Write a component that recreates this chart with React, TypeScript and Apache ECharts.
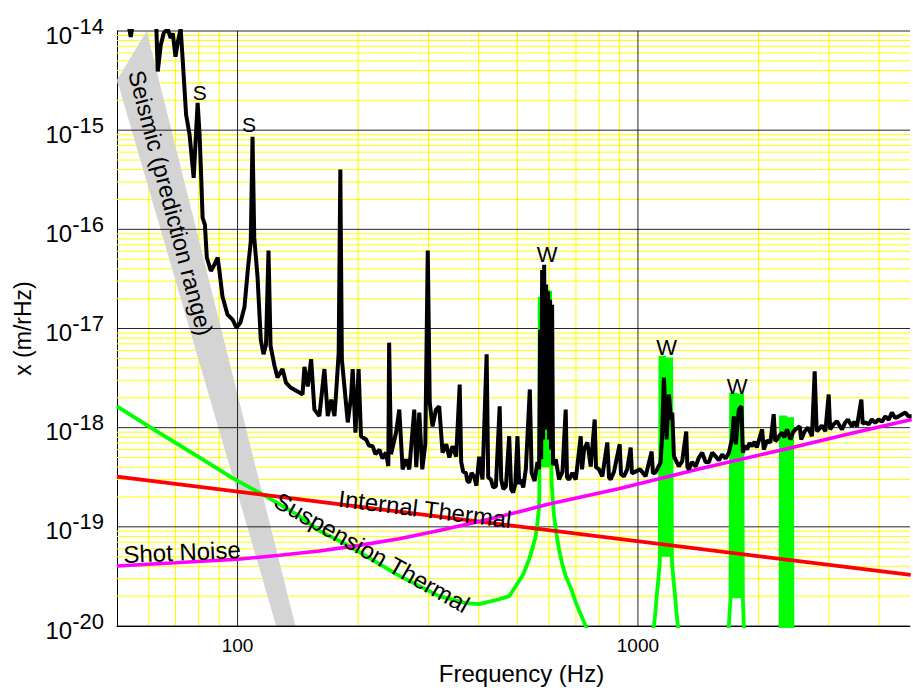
import { useEffect, useRef } from "react";
import * as echarts from "echarts";

const FONT = '"Liberation Sans", Arial, Helvetica, sans-serif';

// Axis ranges
const freqMin = 50;
const freqMax = 4780;
const ampMin = 1e-20;
const ampMax = 1e-14;

// Grid lines
const majorFreqLines = [100, 1000];
const minorFreqLines = [60, 70, 80, 90, 200, 300, 400, 500, 600, 700, 800, 900, 2000, 3000, 4000];
const ampDecades = [1e-20, 1e-19, 1e-18, 1e-17, 1e-16, 1e-15, 1e-14];
const minorMultipliers = [2, 3, 4, 5, 6, 7, 8, 9];

// Measured displacement spectrum [Hz, m/rHz]
const measured: [number, number][] = [
  [50, 2.0e-14], [53.2, 1.3e-14], [54.1, 8.7e-15], [55.0, 1.3e-14], [60.3, 3.0e-14], [62.4, 2.0e-14],
  [63.2, 3.9e-15], [64.3, 7.2e-15], [65.4, 9.5e-15], [66.9, 1.05e-14], [68.1, 8.5e-15], [68.9, 9.5e-15],
  [70.0, 5.5e-15], [70.9, 7.7e-15], [72.1, 1.05e-14], [72.9, 5.4e-15], [73.8, 2.4e-15], [74.4, 1.43e-15],
  [75.9, 9.0e-16], [77.7, 3.3e-16], [79.5, 1.88e-15], [80.4, 9.0e-16], [81.1, 3.55e-16], [81.8, 1.31e-16],
  [82.9, 1.11e-16], [83.8, 5.2e-17], [85.8, 3.8e-17], [87.5, 4.4e-17], [89.2, 5.2e-17], [90.2, 3.7e-17],
  [91.7, 2.1e-17], [94.4, 1.38e-17], [97.2, 1.23e-17], [99.4, 1.02e-17], [101.7, 1.15e-17], [104.1, 1.66e-17],
  [106.2, 4.1e-17], [107.9, 7.5e-17], [109.0, 8.6e-16], [110.1, 8.2e-17], [112.2, 3.3e-17], [114.3, 7.7e-18],
  [116.1, 5.5e-18], [117.8, 6.9e-18], [119.5, 6.1e-17], [120.9, 6.7e-18], [123.7, 4.2e-18], [125.8, 3.2e-18],
  [129.5, 3.9e-18], [132.1, 2.85e-18], [135.6, 2.54e-18], [141.2, 2.32e-18], [145.3, 2.16e-18], [146.9, 4.1e-18],
  [149.7, 2.6e-18], [152.7, 4.9e-18], [155.6, 1.52e-18], [160.1, 1.31e-18], [164.8, 3.9e-18], [168.0, 1.31e-18],
  [171.3, 1.92e-18], [174.6, 1.31e-18], [176.3, 2.26e-18], [178.9, 5.7e-18], [180.6, 4.0e-16], [182.2, 4.9e-18],
  [184.9, 2.6e-18], [188.5, 1.13e-18], [192.1, 2.06e-18], [193.9, 3.9e-18], [197.0, 8.9e-19], [200.6, 3.9e-18],
  [203.4, 8.2e-19], [209.4, 7.6e-19], [213.0, 6.6e-19], [217.5, 6.5e-19], [221.0, 5.4e-19], [226.1, 6.0e-19],
  [230.0, 4.9e-19], [234.9, 5.6e-19], [238.0, 4.1e-19],
  [239.1, 7.2e-18], [241.7, 5.4e-19], [248.8, 8.9e-19], [253.5, 1.52e-18], [258.4, 3.8e-19], [263.5, 4.8e-19],
  [268.5, 3.8e-19], [276.3, 1.52e-18], [279.5, 4.0e-19], [284.4, 1.42e-18], [289.3, 3.8e-19], [294.4, 6.8e-19],
  [298.6, 6.1e-17], [302.0, 1.79e-18], [306.9, 1.03e-18], [313.0, 1.52e-18], [318.9, 1.64e-18], [325.1, 5.6e-19],
  [332.0, 6.8e-19], [338.0, 5.0e-19], [344.2, 6.5e-19], [351.6, 5.1e-19], [358.8, 2.72e-18], [361.9, 4.5e-19],
  [366.0, 3.6e-19], [371.8, 3.5e-19], [375.0, 2.9e-19],
  [379.0, 2.8e-19], [384.0, 3.5e-19], [390.0, 3.2e-19], [395.0, 2.6e-19], [401.4, 5.1e-19], [409.1, 3.0e-19],
  [418.9, 5.5e-18], [422.7, 3.15e-19],
  [429.3, 3.0e-19], [435.0, 2.5e-19], [441.8, 2.56e-19], [451.5, 1.64e-18], [455.5, 3.0e-19], [461.0, 2.4e-19],
  [468.0, 2.56e-19], [476.9, 8.2e-19],
  [482.4, 2.4e-19], [488.0, 2.22e-19], [494.0, 2.7e-19], [500.2, 8.2e-19], [505.1, 2.7e-19], [510.0, 3.0e-19],
  [517.0, 2.5e-19], [524.8, 3.8e-19],
  [537.0, 2.43e-18], [542.6, 3.5e-19], [552.0, 2.9e-19], [561.0, 4.5e-19], [566.5, 3.8e-19], [569.8, 9.7e-18],
  [573.1, 4.8e-19],
  [576.4, 3.9e-17], [579.7, 7.6e-19], [583.1, 4.4e-17], [586.4, 9.6e-19], [589.8, 2.77e-17], [593.2, 9.6e-19],
  [596.6, 2.36e-17], [600.0, 7.6e-19], [603.4, 1.95e-17], [606.8, 6.0e-19], [610.3, 1.74e-17], [613.8, 4.2e-19],
  [623.4, 4.8e-19], [635.3, 3.0e-19], [648.0, 3.6e-19], [660.0, 1.52e-18], [665.1, 3.15e-19], [672.9, 3.0e-19],
  [686.0, 3.5e-19], [699.3, 3.0e-19],
  [719.7, 8.2e-19], [725.1, 3.8e-19], [733.5, 6.0e-19], [747.6, 7.1e-19], [762.2, 4.06e-19], [779.8, 1.21e-18],
  [785.7, 4.0e-19], [799.2, 3.8e-19], [814.7, 3.23e-19], [838.4, 7.1e-19], [846.7, 3.15e-19], [855.0, 3.0e-19],
  [871.4, 3.6e-19], [900.4, 6.8e-19], [907.1, 3.4e-19], [922.9, 3.23e-19], [940, 3.8e-19], [959, 6.3e-19],
  [966, 3.46e-19],
  [977, 3.54e-19], [1012, 3.8e-19], [1045, 3.23e-19], [1082, 5.75e-19], [1090, 3.46e-19], [1107, 3.54e-19],
  [1139, 4.47e-19], [1148, 7.6e-19], [1161, 3.2e-18], [1179, 7.6e-19], [1195, 2.16e-18], [1209, 1.21e-18],
  [1218, 1.42e-18], [1230, 5.13e-19], [1265, 4.06e-19], [1290, 4.6e-19], [1320, 9.16e-19], [1329, 4.0e-19],
  [1341, 3.8e-19], [1365, 4.5e-19],
  [1393, 4.06e-19], [1420, 5.0e-19], [1447, 5.6e-19], [1475, 4.5e-19], [1503, 4.47e-19], [1533, 5.6e-19],
  [1563, 5.13e-19], [1593, 4.7e-19], [1623, 5.37e-19], [1655, 4.9e-19], [1687, 5.6e-19],
  [1716, 7.6e-19], [1736, 1.3e-18], [1756, 6.8e-19], [1786, 1.52e-18], [1814, 1.64e-18], [1828, 5.6e-19],
  [1850, 6.6e-19], [1873, 6.0e-19], [1900, 7.0e-19], [1928, 6.5e-19], [1955, 7.2e-19], [1981, 6.3e-19],
  [2042, 9.6e-19], [2062, 6.0e-19], [2100, 7.4e-19], [2142, 7.1e-19],
  [2183, 1.37e-18], [2202, 7.3e-19], [2225, 7.6e-19], [2260, 8.4e-19], [2291, 8.9e-19], [2320, 8.0e-19],
  [2357, 9.6e-19], [2403, 7.6e-19], [2440, 9.0e-19],
  [2474, 9.6e-19], [2535, 1.03e-18], [2557, 7.6e-19], [2610, 9.2e-19], [2659, 1.0e-18], [2720, 8.2e-19],
  [2763, 3.7e-18],
  [2795, 9.2e-19], [2827, 9.6e-19], [2880, 1.05e-18], [2938, 9.2e-19], [2995, 2.16e-18], [3020, 9.6e-19],
  [3080, 1.08e-18], [3140, 1.16e-18],
  [3232, 9.6e-19], [3290, 1.12e-18], [3345, 1.21e-18], [3423, 1.03e-18], [3470, 1.15e-18], [3523, 1.03e-18],
  [3614, 1.92e-18], [3641, 1.1e-18], [3698, 1.13e-18], [3770, 1.08e-18], [3839, 1.21e-18], [3910, 1.12e-18],
  [3990, 1.21e-18], [4070, 1.15e-18], [4147, 1.3e-18], [4230, 1.2e-18], [4307, 1.42e-18], [4390, 1.25e-18],
  [4477, 1.3e-18], [4560, 1.36e-18], [4652, 1.42e-18], [4740, 1.3e-18], [4824, 1.3e-18],
];

// Suspension thermal noise with violin-mode resonances
const suspensionThermal: [number, number][] = [
  [50, 1.64e-18], [63.9, 8.8e-19], [81.8, 4.8e-19], [97.2, 3.1e-19], [117.9, 2.03e-19], [142.8, 1.28e-19],
  [160.1, 9.1e-20], [190.2, 6.4e-20], [253.5, 3.2e-20], [318.9, 2.0e-20], [371.8, 1.7e-20], [401.4, 1.66e-20],
  [450.2, 1.86e-20], [476.9, 2.0e-20], [495.4, 2.53e-20], [516.8, 3.3e-20], [534.6, 4.7e-20], [546.0, 6.2e-20],
  [555.5, 8.1e-20], [561.6, 1.14e-19], [566.5, 1.62e-19], [567.5, 2.4e-19],
  [568.2, 2.09e-17], [573.1, 4.0e-19], [576.4, 2.0e-17], [579.7, 4.0e-19], [583.1, 2.0e-17], [586.4, 4.0e-19],
  [589.8, 2.2e-17], [593.2, 4.0e-19], [596.6, 2.46e-17], [600.0, 4.0e-19], [603.4, 2.4e-17], [608.5, 2.8e-19],
  [612.7, 1.9e-19], [617.3, 1.29e-19], [626.0, 8.4e-20], [635.3, 5.9e-20], [647.0, 4.2e-20], [660.0, 3.2e-20],
  [683.0, 2.3e-20], [699.3, 1.73e-20], [719.0, 1.32e-20], [740.6, 1.0e-20], [767.6, 7.4e-21], [800, 5e-21],
  [1050, 5e-21], [1096, 1.0e-20], [1106, 1.4e-20], [1115, 2.1e-20], [1125, 3.0e-20], [1134, 4.4e-20],
  [1138, 5.3e-18], [1144, 5.0e-20], [1150, 5.3e-18], [1156, 5.0e-20], [1162, 5.3e-18], [1168, 5.0e-20],
  [1174, 5.1e-18], [1180, 5.0e-20], [1186, 5.1e-18], [1192, 5.0e-20], [1198, 5.1e-18], [1204, 5.0e-20],
  [1210, 5.1e-18], [1216, 4.4e-20], [1226, 3.0e-20], [1237, 2.1e-20], [1247, 1.4e-20], [1258, 1.0e-20],
  [1300, 5e-21],
  [1650, 5e-21], [1687, 1.0e-20], [1695, 1.4e-20], [1703, 1.9e-20],
  [1709, 2.25e-18], [1717, 1.9e-20], [1725, 2.25e-18], [1733, 1.9e-20], [1741, 2.25e-18], [1749, 1.9e-20],
  [1757, 2.25e-18], [1765, 1.9e-20], [1773, 2.2e-18], [1781, 1.9e-20], [1789, 2.2e-18], [1797, 1.9e-20],
  [1805, 2.2e-18], [1813, 1.9e-20], [1821, 2.2e-18], [1828, 1.9e-20], [1833, 1.4e-20], [1838, 1.0e-20],
  [1900, 5e-21],
  [2250, 5e-21], [2270, 5e-21],
  [2276, 1.33e-18], [2287, 5e-21], [2298, 1.33e-18], [2309, 5e-21], [2320, 1.33e-18], [2331, 5e-21],
  [2342, 1.3e-18], [2353, 5e-21], [2364, 1.27e-18], [2375, 5e-21], [2386, 1.27e-18], [2397, 5e-21],
  [2408, 1.27e-18], [2419, 5e-21], [2426, 1.27e-18], [2432, 5e-21], [4800, 5e-21],
];

// Internal (test mass) thermal noise
const internalThermal: [number, number][] = [
  [50, 3.2e-19],
  [4800, 3.27e-20],
];

// Shot noise
const shotNoise: [number, number][] = [
  [50, 4.03e-20], [70, 4.34e-20], [100, 4.71e-20], [127.3, 5.16e-20], [160, 5.7e-20], [201.4, 6.5e-20],
  [253.5, 7.6e-20], [318.9, 9.2e-20], [401.4, 1.13e-19], [505.1, 1.42e-19], [600, 1.7e-19], [895, 2.42e-19],
  [1419, 3.84e-19], [2343, 6.1e-19], [3357, 8.65e-19], [4824, 1.21e-18],
];

// Seismic prediction range (outline of the band)
const seismicRange: [number, number][] = [
  [50, 3.2e-15],
  [59.3, 1e-14],
  [139.5, 1e-20],
  [124.9, 1e-20],
];

function gridSeries(freqs: number[], amps: number[], color: string, z: number) {
  return {
    type: "custom",
    z,
    silent: true,
    data: [[100, 1e-17]],
    renderItem: (params: any, api: any) => {
      const cs = params.coordSys;
      const children: any[] = [];
      freqs.forEach((f) => {
        const p = api.coord([f, 1e-17]);
        children.push({
          type: "line",
          shape: { x1: p[0], y1: cs.y, x2: p[0], y2: cs.y + cs.height },
          style: { stroke: color, lineWidth: 1 },
        });
      });
      amps.forEach((a) => {
        const p = api.coord([100, a]);
        children.push({
          type: "line",
          shape: { x1: cs.x, y1: p[1], x2: cs.x + cs.width, y2: p[1] },
          style: { stroke: color, lineWidth: 1 },
        });
      });
      return { type: "group", children };
    },
  };
}

function curve(data: [number, number][], color: string, width: number, z: number) {
  return {
    type: "line",
    data,
    z,
    symbol: "none",
    showSymbol: false,
    silent: true,
    clip: true,
    lineStyle: { color, width },
    emphasis: { disabled: true },
  };
}

function label(text: string, x: number, y: number, size: number, rotDeg = 0) {
  return {
    type: "text",
    x,
    y,
    z: 100,
    silent: true,
    rotation: (rotDeg * Math.PI) / 180,
    style: {
      text,
      fontSize: size,
      fontFamily: FONT,
      fill: "#000",
      align: "center",
      verticalAlign: "middle",
      textAlign: "center",
      textVerticalAlign: "middle",
    },
  };
}

export default function App() {
  const ref = useRef<HTMLDivElement>(null);

  useEffect(() => {
    if (!ref.current) return;
    const chart = echarts.init(ref.current, null, { renderer: "svg" });

    const minorAmpLines: number[] = [];
    ampDecades.slice(0, -1).forEach((d) => minorMultipliers.forEach((m) => minorAmpLines.push(m * d)));

    const option: any = {
      animation: false,
      backgroundColor: "#fff",
      grid: { left: 117, right: 0, top: 31, bottom: 63, containLabel: false },
      xAxis: {
        type: "log",
        logBase: 10,
        min: freqMin,
        max: freqMax,
        axisLine: { show: true, onZero: false, lineStyle: { color: "#000", width: 1 } },
        axisTick: { show: false },
        splitLine: { show: false },
        minorSplitLine: { show: false },
        axisLabel: {
          margin: 10,
          fontSize: 19,
          fontFamily: FONT,
          color: "#000",
          formatter: (v: number) => {
            const e = Math.log10(v);
            return Math.abs(e - Math.round(e)) < 1e-6 ? String(Math.round(v)) : "";
          },
        },
        name: "Frequency (Hz)",
        nameLocation: "middle",
        nameGap: 35,
        nameTextStyle: { fontSize: 24, fontFamily: FONT, color: "#000", padding: [0, 0, 0, 16] },
      },
      yAxis: {
        type: "log",
        logBase: 10,
        min: ampMin,
        max: ampMax,
        splitNumber: 6,
        axisLine: { show: true, onZero: false, lineStyle: { color: "#000", width: 1 } },
        axisTick: { show: false },
        splitLine: { show: false },
        axisLabel: {
          margin: 13,
          formatter: (v: number) => `{b|10}{e|${Math.round(Math.log10(v))}}`,
          rich: {
            b: { fontSize: 24, fontFamily: FONT, color: "#000", verticalAlign: "bottom", lineHeight: 32 },
            e: { fontSize: 22, fontFamily: FONT, color: "#000", verticalAlign: "top", lineHeight: 32 },
          },
        },
        name: "x (m/rHz)",
        nameLocation: "middle",
        nameGap: 80,
        nameRotate: 90,
        nameTextStyle: { fontSize: 23, fontFamily: FONT, color: "#000" },
      },
      series: [
        gridSeries(minorFreqLines, minorAmpLines, "#ffff00", 1),
        {
          type: "custom",
          z: 2,
          silent: true,
          data: [[100, 1e-17]],
          renderItem: (_params: any, api: any) => ({
            type: "polygon",
            shape: { points: seismicRange.map((p) => api.coord(p)) },
            style: { fill: "#d4d4d4" },
          }),
        },
        gridSeries(majorFreqLines, ampDecades, "rgba(0,0,0,0.85)", 3),
        curve(suspensionThermal, "#00ff00", 3.8, 4),
        curve(internalThermal, "#ff0000", 3.8, 5),
        curve(shotNoise, "#ff00ff", 3.6, 5),
        curve(measured, "#000000", 4, 6),
      ],
      graphic: [
        label("S", 199.7, 92.5, 21),
        label("S", 249, 124, 21),
        label("W", 547, 254, 22),
        label("W", 666.5, 347.5, 22),
        label("W", 737, 386, 22),
        label("Seismic (prediction range)", 170.5, 203, 23.5, -75.2),
        label("Shot Noise", 182, 552, 24, 2.4),
        label("Internal Thermal", 425, 509, 24, -7.1),
        label("Suspension Thermal", 372, 552.5, 24, -29.4),
      ],
    };

    chart.setOption(option);
    return () => chart.dispose();
  }, []);

  return (
    <div
      ref={ref}
      style={{ position: "absolute", left: 0, top: 0, width: 913, height: 690, background: "#fff" }}
    />
  );
}
